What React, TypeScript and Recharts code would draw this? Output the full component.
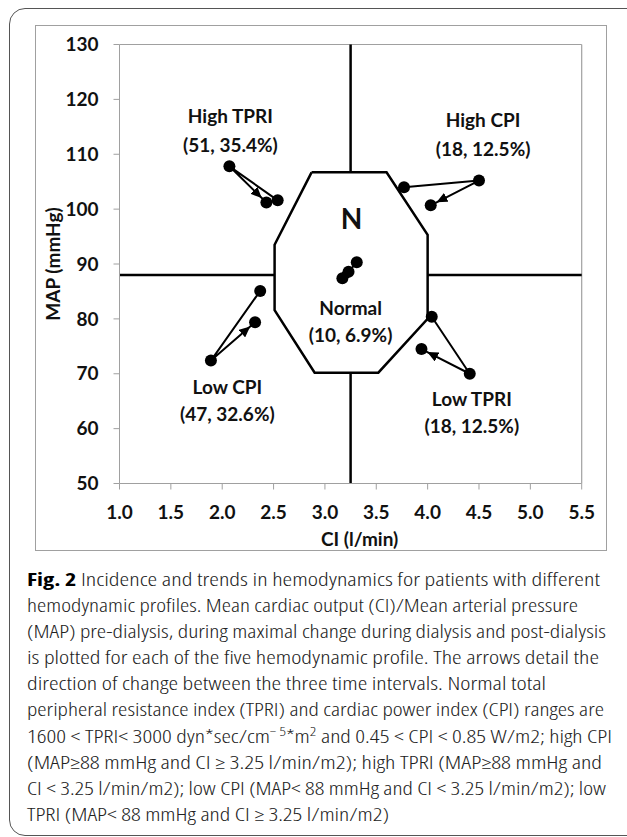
import React from 'react';
import { ScatterChart, Scatter, XAxis, YAxis, ReferenceLine } from 'recharts';

// ---- data ----
const CI_TICKS = [1.0, 1.5, 2.0, 2.5, 3.0, 3.5, 4.0, 4.5, 5.0, 5.5];
const MAP_TICKS = [50, 60, 70, 80, 90, 100, 110, 120, 130];

// each profile: pre-dialysis -> maximal change -> post-dialysis
const HIGH_TPRI = [
  { ci: 2.54, map: 101.6 },
  { ci: 2.07, map: 107.8 },
  { ci: 2.43, map: 101.2 },
];
const HIGH_CPI = [
  { ci: 3.77, map: 104.0 },
  { ci: 4.5, map: 105.2 },
  { ci: 4.03, map: 100.7 },
];
const LOW_CPI = [
  { ci: 2.37, map: 85.1 },
  { ci: 1.89, map: 72.4 },
  { ci: 2.32, map: 79.4 },
];
const LOW_TPRI = [
  { ci: 4.04, map: 80.4 },
  { ci: 4.41, map: 70.0 },
  { ci: 3.94, map: 74.5 },
];
const NORMAL = [
  { ci: 3.17, map: 87.4 },
  { ci: 3.23, map: 88.6 },
  { ci: 3.31, map: 90.3 },
];

const OCTAGON = [
  { ci: 2.87, map: 106.7 },
  { ci: 3.6, map: 106.7 },
  { ci: 4.0, map: 95.3 },
  { ci: 4.0, map: 80.0 },
  { ci: 3.52, map: 70.2 },
  { ci: 2.9, map: 70.2 },
  { ci: 2.51, map: 81.6 },
  { ci: 2.51, map: 93.5 },
  { ci: 2.87, map: 106.7 },
];

const CROSS_SEGMENTS = [
  [{ x: 3.25, y: 130 }, { x: 3.25, y: 106.7 }],
  [{ x: 3.25, y: 70.2 }, { x: 3.25, y: 50 }],
  [{ x: 1.0, y: 88 }, { x: 2.51, y: 88 }],
  [{ x: 4.0, y: 88 }, { x: 5.5, y: 88 }],
];

const LABELS = [
  { ci: 2.08, map: 117.1, text: 'High TPRI', big: false },
  { ci: 2.08, map: 111.8, text: '(51, 35.4%)', big: false },
  { ci: 4.54, map: 116.4, text: 'High CPI', big: false },
  { ci: 4.54, map: 111.0, text: '(18, 12.5%)', big: false },
  { ci: 3.26, map: 98.4, text: 'N', big: true },
  { ci: 3.25, map: 82.1, text: 'Normal', big: false },
  { ci: 3.25, map: 77.2, text: '(10, 6.9%)', big: false },
  { ci: 2.05, map: 67.7, text: 'Low CPI', big: false },
  { ci: 2.05, map: 62.7, text: '(47, 32.6%)', big: false },
  { ci: 4.43, map: 65.5, text: 'Low TPRI', big: false },
  { ci: 4.43, map: 60.5, text: '(18, 12.5%)', big: false },
];

const CAPTION_LINES: { parts: { t: string; b?: boolean; sup?: boolean }[]; len: number }[] = [
  { parts: [{ t: 'Fig. 2', b: true }, { t: ' Incidence and trends in hemodynamics for patients with different' }], len: 573 },
  { parts: [{ t: 'hemodynamic profiles. Mean cardiac output (CI)/Mean arterial pressure' }], len: 551 },
  { parts: [{ t: '(MAP) pre-dialysis, during maximal change during dialysis and post-dialysis' }], len: 579 },
  { parts: [{ t: 'is plotted for each of the five hemodynamic profile. The arrows detail the' }], len: 572 },
  { parts: [{ t: 'direction of change between the three time intervals. Normal total' }], len: 519 },
  { parts: [{ t: 'peripheral resistance index (TPRI) and cardiac power index (CPI) ranges are' }], len: 577 },
  {
    parts: [
      { t: '1600 < TPRI< 3000 dyn*sec/cm' },
      { t: '\u2212 5', sup: true },
      { t: '*m' },
      { t: '2', sup: true },
      { t: ' and 0.45 < CPI < 0.85 W/m2; high CPI' },
    ],
    len: 585,
  },
  { parts: [{ t: '(MAP\u226588 mmHg and CI \u2265 3.25 l/min/m2); high TPRI (MAP\u226588 mmHg and' }], len: 575 },
  { parts: [{ t: 'CI < 3.25 l/min/m2); low CPI (MAP< 88 mmHg and CI < 3.25 l/min/m2); low' }], len: 579 },
  { parts: [{ t: 'TPRI (MAP< 88 mmHg and CI \u2265 3.25 l/min/m2)' }], len: 362 },
];

const FONT = "Lato, 'Open Sans', sans-serif";
const CAP_FONT = "'Open Sans', 'Noto Sans', sans-serif";

const Dot = (p: any) => <circle cx={p.cx} cy={p.cy} r={6} fill="#000" />;
const NoShape = () => <g />;
const LabelShape = (p: any) => (
  <text
    x={p.cx}
    y={p.cy}
    textAnchor="middle"
    dominantBaseline="central"
    fontFamily={FONT}
    fontWeight={700}
    fontSize={p.payload.big ? 28 : 19}
    fill="#111"
  >
    {p.payload.text}
  </text>
);

const seriesLine = { stroke: '#000', strokeWidth: 2, markerEnd: 'url(#arrowhead)' };

export default function App() {
  return (
    <div style={{ position: 'fixed', left: 0, top: 0, width: 627, height: 837, overflow: 'hidden', background: '#fff' }}>
      <svg width={0} height={0} style={{ position: 'absolute' }}>
        <defs>
          <marker
            id="arrowhead"
            viewBox="0 0 24 10"
            markerWidth={24}
            markerHeight={10}
            refX={17.5}
            refY={5}
            orient="auto"
            markerUnits="userSpaceOnUse"
          >
            <path d="M0,0 L11,5 L0,10 z" fill="#000" />
          </marker>
        </defs>
      </svg>
      <div
        style={{
          position: 'absolute',
          left: 9,
          top: 8,
          width: 660,
          height: 828,
          border: '1.5px solid #555',
          borderRadius: 16,
          boxSizing: 'border-box',
        }}
      />
      <div
        style={{
          position: 'absolute',
          left: 35,
          top: 25,
          width: 572,
          height: 526,
          border: '1.5px solid #a0a0a0',
          boxSizing: 'border-box',
        }}
      />
      <div style={{ position: 'absolute', left: 0, top: 0 }}>
        <ScatterChart width={627} height={560} margin={{ top: 44.5, right: 45.3, bottom: 26.5, left: 59.5 }}>
          <XAxis
            type="number"
            dataKey="ci"
            domain={[1, 5.5]}
            ticks={CI_TICKS}
            tickFormatter={(v: number) => v.toFixed(1)}
            height={50}
            stroke="#a0a0a0"
            tickSize={6}
            tickMargin={16}
            tick={{ fill: '#111', fontSize: 19, fontWeight: 700, fontFamily: FONT }}
            allowDataOverflow
            label={(props: any) => {
              const vb = props.viewBox;
              return (
                <text
                  x={vb.x + vb.width / 2 + 9}
                  y={vb.y + 55}
                  textAnchor="middle"
                  dominantBaseline="central"
                  fontFamily={FONT}
                  fontWeight={700}
                  fontSize={19}
                  fill="#111"
                >
                  CI (l/min)
                </text>
              );
            }}
          />
          <YAxis
            type="number"
            dataKey="map"
            domain={[50, 130]}
            ticks={MAP_TICKS}
            width={60}
            stroke="#a0a0a0"
            tickSize={6}
            tickMargin={15}
            tick={{ fill: '#111', fontSize: 19, fontWeight: 700, fontFamily: FONT }}
            allowDataOverflow
            label={(props: any) => {
              const vb = props.viewBox;
              const cx = vb.x - 7;
              const cy = vb.y + vb.height / 2;
              return (
                <text
                  transform={`translate(${cx}, ${cy}) rotate(-90)`}
                  textAnchor="middle"
                  dominantBaseline="central"
                  fontFamily={FONT}
                  fontWeight={700}
                  fontSize={19}
                  fill="#111"
                >
                  MAP (mmHg)
                </text>
              );
            }}
          />
          <ReferenceLine y={130} stroke="#a0a0a0" strokeWidth={1.2} />
          <ReferenceLine x={5.5} stroke="#a0a0a0" strokeWidth={1.2} />
          {CROSS_SEGMENTS.map((seg, i) => (
            <ReferenceLine key={i} segment={seg} stroke="#000" strokeWidth={2.5} />
          ))}
          <Scatter data={OCTAGON} line={{ stroke: '#000', strokeWidth: 2.5 }} lineType="joint" shape={NoShape} isAnimationActive={false} />
          <Scatter data={HIGH_TPRI} line={seriesLine} lineType="joint" shape={Dot} isAnimationActive={false} />
          <Scatter data={HIGH_CPI} line={seriesLine} lineType="joint" shape={Dot} isAnimationActive={false} />
          <Scatter data={LOW_CPI} line={seriesLine} lineType="joint" shape={Dot} isAnimationActive={false} />
          <Scatter data={LOW_TPRI} line={seriesLine} lineType="joint" shape={Dot} isAnimationActive={false} />
          <Scatter data={NORMAL} line={seriesLine} lineType="joint" shape={Dot} isAnimationActive={false} />
          <Scatter data={LABELS} shape={LabelShape} isAnimationActive={false} />
        </ScatterChart>
      </div>
      <svg width={627} height={277} style={{ position: 'absolute', left: 0, top: 560 }}>
        {CAPTION_LINES.map((line, i) => {
          const base = [20, 46, 72, 98, 124, 150, 177, 203, 229, 255][i] + 6;
          let supOn = false;
          return (
            <text
              key={i}
              x={27}
              y={base}
              textLength={line.len}
              lengthAdjust="spacingAndGlyphs"
              fontFamily={CAP_FONT}
              fontSize={18}
              fill="#222"
              style={{ fontStretch: '75%' }}
            >
              {line.parts.map((pt, j) => {
                let dy: number | undefined = undefined;
                if (pt.sup && !supOn) {
                  dy = -7;
                  supOn = true;
                } else if (!pt.sup && supOn) {
                  dy = 7;
                  supOn = false;
                }
                return (
                  <tspan
                    key={j}
                    dy={dy}
                    fontWeight={pt.b ? 700 : 300}
                    fill={pt.b ? '#000' : undefined}
                    fontSize={pt.sup ? 12 : undefined}
                  >
                    {pt.t}
                  </tspan>
                );
              })}
            </text>
          );
        })}
      </svg>
    </div>
  );
}
